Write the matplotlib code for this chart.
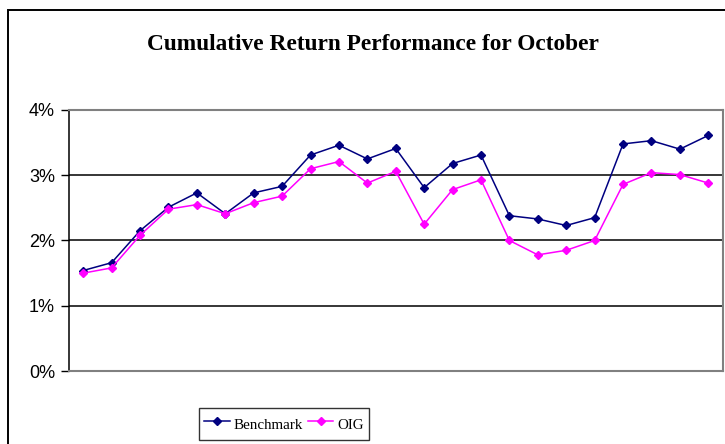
import matplotlib
matplotlib.use("Agg")
import matplotlib.pyplot as plt
from matplotlib.patches import Rectangle
from matplotlib.ticker import FuncFormatter

# daily observations in October (cumulative return, %)
days = list(range(1, 24))
benchmark = [1.54, 1.66, 2.15, 2.51, 2.73, 2.41, 2.73, 2.83, 3.31, 3.46, 3.25, 3.41,
             2.81, 3.18, 3.31, 2.38, 2.33, 2.23, 2.35, 3.48, 3.53, 3.40, 3.61]
oig = [1.50, 1.58, 2.08, 2.48, 2.55, 2.41, 2.58, 2.68, 3.10, 3.21, 2.88, 3.06,
       2.25, 2.78, 2.93, 2.00, 1.78, 1.85, 2.00, 2.86, 3.04, 3.01, 2.88]
yticks = [0, 1, 2, 3, 4]

W, H = 725, 444
fig = plt.figure(figsize=(W / 100, H / 100), dpi=100)

# outer chart frame (runs off the right and bottom edges)
fig.patches.append(Rectangle((8 / W, -0.1), 1.2, 1 - 10 / H + 0.1, transform=fig.transFigure,
                             fill=False, edgecolor="black", linewidth=1.4))

ax = fig.add_axes([69 / W, 73 / H, 653.5 / W, 261 / H])
ax.plot(days, benchmark, color="#000080", marker="D", markersize=4.5, linewidth=1.1, label="Benchmark")
ax.plot(days, oig, color="#FF00FF", marker="D", markersize=4.5, linewidth=1.1, label="OIG")

ax.set_xlim(0.5, len(days) + 0.5)
ax.set_ylim(0, 4)
ax.set_xticks([])
ax.set_yticks(yticks)
ax.yaxis.set_major_formatter(FuncFormatter(lambda v, p: f"{v:.0f}%"))
ax.tick_params(axis="y", length=6, width=1, color="black", labelsize=13, pad=4)
for lab in ax.get_yticklabels():
    lab.set_family("Liberation Sans")
ax.grid(axis="y", color="black", linewidth=1.1)
ax.set_axisbelow(True)

for side in ["top", "right", "bottom"]:
    ax.spines[side].set_color("#808080")
    ax.spines[side].set_linewidth(1.5)
ax.spines["left"].set_color("black")
ax.spines["left"].set_linewidth(1.1)

fig.text(373 / W, 1 - 44 / H, "Cumulative Return Performance for October", ha="center", va="center",
         fontsize=16.8, fontweight="bold", family="Liberation Serif")

leg = fig.legend(loc="center", bbox_to_anchor=(284 / W, 1 - 424 / H), bbox_transform=fig.transFigure,
                 ncol=2, frameon=True, fancybox=False, edgecolor="black", handlelength=1.7,
                 handleheight=1.9, handletextpad=0.26, columnspacing=0.33, borderpad=0.33,
                 prop={"family": "Liberation Serif", "size": 10.8})
leg.get_frame().set_linewidth(1.0)

fig.savefig("out.png", dpi=100)
